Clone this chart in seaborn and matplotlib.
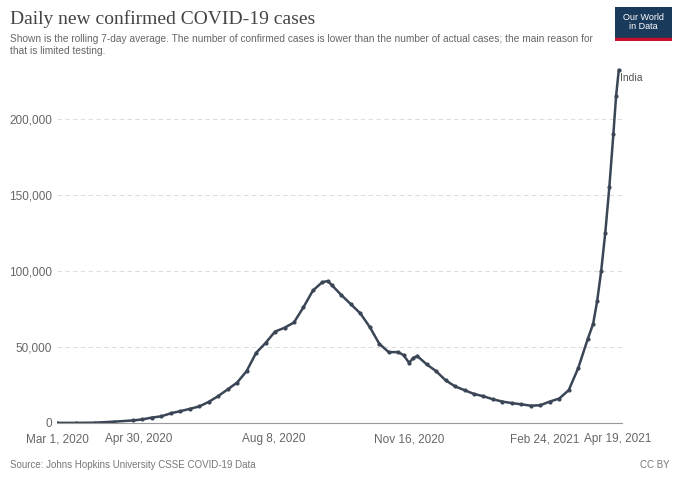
import pandas as pd
import matplotlib.pyplot as plt
import matplotlib.ticker as mticker
import seaborn as sns

dates = ["2020-03-01", "2020-03-15", "2020-03-29", "2020-04-12", "2020-04-26", "2020-05-03",
         "2020-05-10", "2020-05-17", "2020-05-24", "2020-05-31", "2020-06-07", "2020-06-14",
         "2020-06-21", "2020-06-28", "2020-07-05", "2020-07-12", "2020-07-19", "2020-07-26",
         "2020-08-02", "2020-08-09", "2020-08-16", "2020-08-23", "2020-08-30", "2020-09-06",
         "2020-09-13", "2020-09-17", "2020-09-20", "2020-09-27", "2020-10-04", "2020-10-11",
         "2020-10-18", "2020-10-25", "2020-11-01", "2020-11-08", "2020-11-12", "2020-11-16",
         "2020-11-19", "2020-11-22", "2020-11-29", "2020-12-06", "2020-12-13", "2020-12-20",
         "2020-12-27", "2021-01-03", "2021-01-10", "2021-01-17", "2021-01-24", "2021-01-31",
         "2021-02-07", "2021-02-14", "2021-02-21", "2021-02-28", "2021-03-07", "2021-03-14",
         "2021-03-21", "2021-03-28", "2021-04-01", "2021-04-04", "2021-04-07", "2021-04-10",
         "2021-04-13", "2021-04-16", "2021-04-18", "2021-04-20"]
cases = [0, 15, 150, 800, 1600, 2300, 3500, 4300, 6300, 7700, 9200, 10800,
         13800, 17600, 22000, 26500, 34000, 46000, 52500, 60000, 62500, 66000, 76000, 87000,
         92500, 93200, 90500, 84000, 78000, 72000, 63000, 52000, 46500, 46500, 44500, 39500,
         42500, 44000, 38500, 34000, 28000, 24000, 21500, 19000, 17500, 15500, 14000, 13000,
         12200, 11300, 11600, 14000, 16000, 21500, 36000, 55000, 65000, 80000, 100000, 125000,
         155000, 190000, 215000, 232000]
tick_dates = ["2020-03-01", "2020-04-30", "2020-08-08", "2020-11-16", "2021-02-24", "2021-04-19"]
tick_labels = ["Mar 1, 2020", "Apr 30, 2020", "Aug 8, 2020", "Nov 16, 2020", "Feb 24, 2021", "Apr 19, 2021"]

df = pd.DataFrame({"date": pd.to_datetime(dates), "cases": cases})

sns.set_style("white")
plt.rcParams['font.family'] = ['Liberation Sans', 'DejaVu Sans']
fig = plt.figure(figsize=(6.8, 4.8), dpi=100)
ax = fig.add_axes([0.084, 0.119, 0.83, 0.745])
sns.lineplot(data=df, x="date", y="cases", ax=ax, color="#3a4556", lw=1.8,
             marker="o", markersize=3, markeredgewidth=0)

ax.set_xlim(pd.Timestamp("2020-03-01"), pd.Timestamp("2021-04-22"))
ax.set_ylim(0, 235000)
ax.set_yticks([0, 50000, 100000, 150000, 200000])
ax.yaxis.set_major_formatter(mticker.FuncFormatter(lambda v, p: f"{int(v):,}"))
ax.set_xticks(pd.to_datetime(tick_dates))
ax.set_xticklabels(tick_labels)
ax.grid(axis="y", ls=(0, (4, 3)), color="#dddddd", lw=0.8)
for s in ["top", "right", "left"]:
    ax.spines[s].set_visible(False)
ax.spines["bottom"].set_color("#999999")
ax.tick_params(axis="both", labelsize=8.5, colors="#666666", length=0)
ax.tick_params(axis="x", length=4, color="#999999")
ax.set_xlabel("")
ax.set_ylabel("")
ax.text(pd.Timestamp("2021-04-21"), 230000, "India", fontsize=7.5, color="#555555", va="top")

fig.text(0.015, 0.95, "Daily new confirmed COVID-19 cases", fontsize=14,
         family="Liberation Serif", color="#444444")
fig.text(0.015, 0.888, "Shown is the rolling 7-day average. The number of confirmed cases is lower than the number of actual cases; the main reason for\nthat is limited testing.",
         fontsize=7.3, color="#666666", linespacing=1.2)
fig.text(0.015, 0.025, "Source: Johns Hopkins University CSSE COVID-19 Data", fontsize=7, color="#777777")
fig.text(0.985, 0.025, "CC BY", fontsize=7, color="#777777", ha="right")

logo = fig.add_axes([0.905, 0.915, 0.083, 0.07])
logo.set_facecolor("#1a3a5c")
logo.set_xticks([])
logo.set_yticks([])
for s in logo.spines.values():
    s.set_visible(False)
logo.axhspan(0, 0.08, color="#c8102e")
logo.set_xlim(0, 1)
logo.set_ylim(0, 1)
logo.text(0.5, 0.55, "Our World\nin Data", color="white", fontsize=6.5, ha="center", va="center",
          linespacing=1.0)

fig.savefig("out.png", dpi=100)
